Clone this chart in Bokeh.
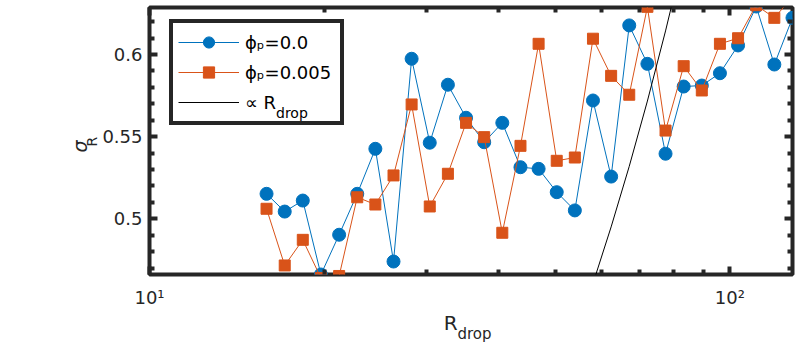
from bokeh.plotting import figure
from bokeh.models import (Range1d, FixedTicker, LinearAxis, LogAxis, Legend,
                          LegendItem, Label, Title)
from bokeh.embed import file_html
from bokeh.resources import INLINE

# ---------------- data ----------------
R_drop = [15.91, 17.10, 18.37, 19.74, 21.22, 22.80, 24.50, 26.33, 28.29, 30.40,
          32.67, 35.11, 37.73, 40.54, 43.57, 46.82, 50.31, 54.06, 58.09, 62.43,
          67.08, 72.09, 77.47, 83.25, 89.46, 96.13, 103.30, 111.01, 119.29, 128.19]

sigma_phi0 = [0.5152, 0.5044, 0.5111, 0.4661, 0.4903, 0.5152, 0.5426, 0.4740, 0.5974, 0.5463,
              0.5816, 0.5615, 0.5466, 0.5584, 0.5314, 0.5304, 0.5162, 0.5051, 0.5720, 0.5257,
              0.6177, 0.5943, 0.5396, 0.5805, 0.5811, 0.5886, 0.6055, 0.6292, 0.5939, 0.6223]

sigma_phi005 = [0.5061, 0.4716, 0.4872, 0.4640, 0.4652, 0.5131, 0.5087, 0.5264, 0.5696, 0.5075,
                0.5274, 0.5584, 0.5497, 0.4915, 0.5444, 0.6065, 0.5353, 0.5373, 0.6096, 0.5870,
                0.5755, 0.6290, 0.5537, 0.5929, 0.5781, 0.6065, 0.6099, 0.6300, 0.6223, 0.6350]

# reference line: sigma proportional to R_drop
ref_coef = 0.00793
ref_sigma = [ref_coef * r for r in R_drop]

x_major = [10, 100]
x_minor = [20, 30, 40, 50, 60, 70, 80, 90]
x_tick_labels = {10: "10\u00b9", 100: "10\u00b2"}
y_major = [0.5, 0.55, 0.6]
y_minor = [0.47, 0.48, 0.49, 0.51, 0.52, 0.53, 0.54, 0.56, 0.57, 0.58, 0.59, 0.61, 0.62]
y_tick_labels = {0.5: "0.5", 0.55: "0.55", 0.6: "0.6"}
legend_labels = ["\u03d5\u209a=0.0", "\u03d5\u209a=0.005", "\u221d R"]

# axis titles: main part and subscript
x_title_main, x_title_sub = "R", "drop"
x_title_at = 33.04
y_title_main, y_title_sub = "\u03c3", "R"
y_title_at, y_sub_at = 0.5440, 0.5470

x_limits = (10, 128.2)
y_limits = (0.4661, 0.6286)

BLUE = "#0072BD"
ORANGE = "#D95319"
AX = "#262626"
FONT = "DejaVu Sans"

p = figure(width=808, height=344, x_axis_type="log",
           x_range=Range1d(*x_limits), y_range=Range1d(*y_limits),
           output_backend="svg", toolbar_location=None,
           min_border_left=149, min_border_right=16,
           min_border_top=7, min_border_bottom=70)
p.xgrid.visible = False
p.ygrid.visible = False
p.outline_line_color = AX
p.outline_line_width = 4
p.outline_line_alpha = 1.0
p.background_fill_color = "white"
p.border_fill_color = "white"


def style_axis(ax, font_size, standoff):
    ax.axis_line_color = None
    ax.major_tick_in = 8
    ax.major_tick_out = 0
    ax.minor_tick_in = 5
    ax.minor_tick_out = 0
    ax.major_tick_line_width = 4
    ax.minor_tick_line_width = 4
    ax.major_tick_line_color = AX
    ax.minor_tick_line_color = AX
    ax.major_label_text_font = FONT
    ax.major_label_text_color = AX
    ax.major_label_standoff = standoff
    ax.major_label_text_font_size = font_size


def title_axis(kind, at, text, font_size, standoff, italic=False, parallel=False):
    ax = kind(ticker=FixedTicker(ticks=[at], minor_ticks=[]),
              major_label_overrides={at: text})
    ax.axis_line_color = None
    ax.major_tick_in = 0
    ax.major_tick_out = 0
    ax.minor_tick_in = 0
    ax.minor_tick_out = 0
    ax.major_tick_line_color = None
    ax.minor_tick_line_color = None
    ax.major_label_text_font = FONT
    ax.major_label_text_color = AX
    ax.major_label_text_font_size = font_size
    ax.major_label_standoff = standoff
    if italic:
        ax.major_label_text_font_style = "italic"
    if parallel:
        ax.major_label_orientation = "parallel"
    return ax


xax = p.xaxis[0]
xax.ticker = FixedTicker(ticks=x_major, minor_ticks=x_minor)
xax.major_label_overrides = x_tick_labels
style_axis(xax, "18px", 12)

yax = p.yaxis[0]
yax.ticker = FixedTicker(ticks=y_major, minor_ticks=y_minor)
yax.major_label_overrides = y_tick_labels
style_axis(yax, "18px", 7)

top_ax = LogAxis(ticker=FixedTicker(ticks=x_major, minor_ticks=x_minor),
                 major_label_overrides={k: "" for k in x_major})
style_axis(top_ax, "0px", 0)
p.add_layout(top_ax, "above")

right_ax = LinearAxis(ticker=FixedTicker(ticks=y_major, minor_ticks=y_minor),
                      major_label_overrides={k: "" for k in y_major})
style_axis(right_ax, "0px", 0)
p.add_layout(right_ax, "right")

# x-axis title "R" with subscript "drop"
p.add_layout(title_axis(LogAxis, x_title_at, x_title_main, "20px", 0), "below")
sub_title = Title(text=x_title_sub, align="left", offset=308, vertical_align="top",
                  text_font=FONT, text_font_size="15px", text_font_style="normal",
                  text_color=AX)
try:
    sub_title.standoff = -25
except Exception:
    sub_title.standoff = 0
p.add_layout(sub_title, "below")

# y-axis title "sigma" with subscript "R"
p.add_layout(title_axis(LinearAxis, y_sub_at, y_title_sub, "14px", -1, parallel=True), "left")
p.add_layout(title_axis(LinearAxis, y_title_at, y_title_main, "19px", -10,
                        italic=True, parallel=True), "left")

# ---------------- data marks ----------------
bl = p.line(R_drop, sigma_phi0, line_color=BLUE, line_width=1)
bs = p.scatter(R_drop, sigma_phi0, marker="circle", size=13,
               fill_color=BLUE, line_color=BLUE)
ol = p.line(R_drop, sigma_phi005, line_color=ORANGE, line_width=1)
os_ = p.scatter(R_drop, sigma_phi005, marker="square", size=11,
                fill_color=ORANGE, line_color=ORANGE)
kl = p.line(R_drop, ref_sigma, line_color="black", line_width=1)

legend = Legend(items=[LegendItem(label=legend_labels[0], renderers=[bl, bs]),
                       LegendItem(label=legend_labels[1], renderers=[ol, os_]),
                       LegendItem(label=legend_labels[2], renderers=[kl])],
                location=(20, 149), orientation="vertical",
                border_line_color=AX, border_line_width=4, border_line_alpha=1,
                padding=5, spacing=2, glyph_width=61, glyph_height=28,
                label_standoff=6, label_text_font=FONT, label_text_font_size="18px",
                label_text_color="black", label_height=20, label_width=90, margin=0,
                background_fill_alpha=0)
p.add_layout(legend)

# subscript of the third legend entry
p.add_layout(Label(x=126.5, y=162, x_units="screen", y_units="screen", text="drop",
                   text_font=FONT, text_font_size="14px", text_color="black",
                   text_align="left", text_baseline="alphabetic", level="overlay"))

open("out.html", "w").write(file_html(p, INLINE))
